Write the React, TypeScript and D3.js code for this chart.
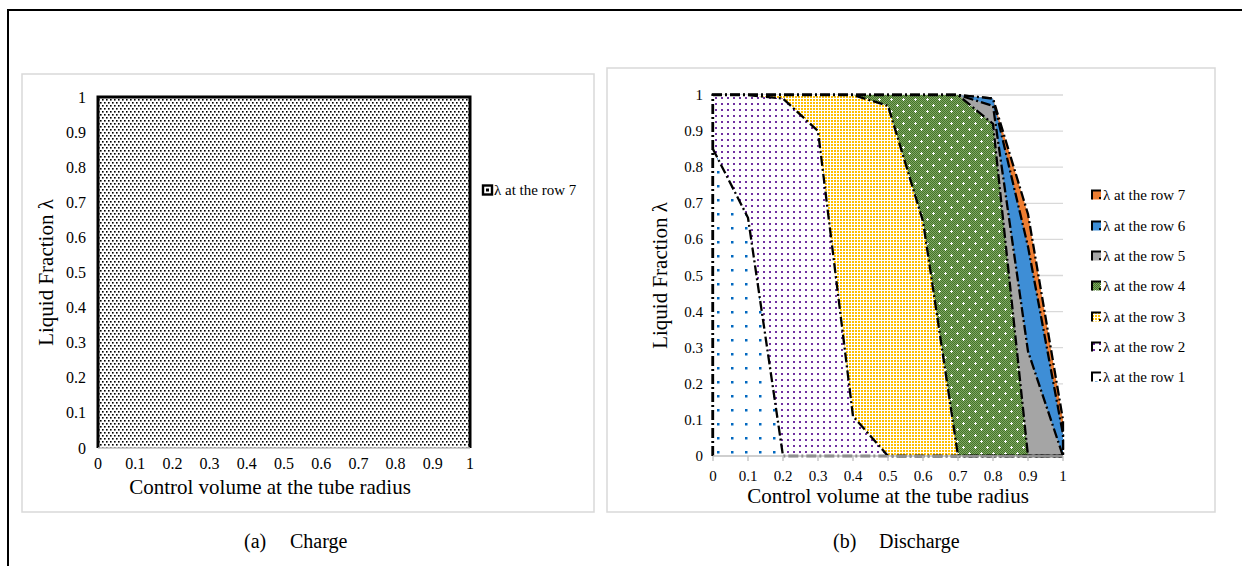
import React from "react";
import * as d3 from "d3";

// Control-volume positions along the tube radius (category axis)
const X_VALUES = [0, 0.1, 0.2, 0.3, 0.4, 0.5, 0.6, 0.7, 0.8, 0.9, 1];
const X_TICK_LABELS = ["0", "0.1", "0.2", "0.3", "0.4", "0.5", "0.6", "0.7", "0.8", "0.9", "1"];
const Y_TICKS = [0, 0.1, 0.2, 0.3, 0.4, 0.5, 0.6, 0.7, 0.8, 0.9, 1];
const Y_TICK_LABELS = ["0", "0.1", "0.2", "0.3", "0.4", "0.5", "0.6", "0.7", "0.8", "0.9", "1"];

// (a) Charge: liquid fraction at row 7
const CHARGE_ROW7 = [1, 1, 1, 1, 1, 1, 1, 1, 1, 1, 1];

// (b) Discharge: liquid fraction per row
const DISCHARGE_ROW1 = [0.85, 0.66, 0, 0, 0, 0, 0, 0, 0, 0, 0];
const DISCHARGE_ROW2 = [1, 1, 0.99, 0.9, 0.11, 0, 0, 0, 0, 0, 0];
const DISCHARGE_ROW3 = [1, 1, 1, 1, 1, 0.97, 0.65, 0, 0, 0, 0];
const DISCHARGE_ROW4 = [1, 1, 1, 1, 1, 1, 1, 1, 0.92, 0, 0];
const DISCHARGE_ROW5 = [1, 1, 1, 1, 1, 1, 1, 1, 0.97, 0.29, 0];
const DISCHARGE_ROW6 = [1, 1, 1, 1, 1, 1, 1, 1, 0.99, 0.58, 0.06];
const DISCHARGE_ROW7 = [1, 1, 1, 1, 1, 1, 1, 1, 0.99, 0.67, 0.1];

const SERIES_NAMES = [
  "λ at the row 1",
  "λ at the row 2",
  "λ at the row 3",
  "λ at the row 4",
  "λ at the row 5",
  "λ at the row 6",
  "λ at the row 7",
];

const X_TITLE = "Control volume at the tube radius";
const Y_TITLE = "Liquid Fraction λ";

const FONT = "'Liberation Serif', 'Times New Roman', serif";
const DASH_DOT = "10 3 2 3";

type Series = { name: string; values: number[]; fill: string };

const dischargeSeries: Series[] = [
  { name: SERIES_NAMES[6], values: DISCHARGE_ROW7, fill: "#ED7D31" },
  { name: SERIES_NAMES[5], values: DISCHARGE_ROW6, fill: "#3E8ED6" },
  { name: SERIES_NAMES[4], values: DISCHARGE_ROW5, fill: "#A5A5A5" },
  { name: SERIES_NAMES[3], values: DISCHARGE_ROW4, fill: "url(#patGreen)" },
  { name: SERIES_NAMES[2], values: DISCHARGE_ROW3, fill: "url(#patYellow)" },
  { name: SERIES_NAMES[1], values: DISCHARGE_ROW2, fill: "url(#patPurple)" },
  { name: SERIES_NAMES[0], values: DISCHARGE_ROW1, fill: "url(#patBlue)" },
];

function Patterns() {
  return (
    <defs>
      <pattern id="patBlack" width={4} height={6} patternUnits="userSpaceOnUse">
        <rect width={4} height={6} fill="#fff" />
        <rect x={0} y={0} width={1.6} height={1.6} fill="#000" />
        <rect x={2} y={3} width={1.6} height={1.6} fill="#000" />
      </pattern>
      <pattern id="patBlue" width={14} height={14} patternUnits="userSpaceOnUse">
        <rect width={14} height={14} fill="#fff" />
        <rect x={3} y={3} width={2.5} height={2.5} fill="#0068C0" />
      </pattern>
      <pattern id="patPurple" width={6} height={6} patternUnits="userSpaceOnUse">
        <rect width={6} height={6} fill="#fff" />
        <rect x={1} y={1} width={2} height={2} fill="#7030A0" />
      </pattern>
      <pattern id="patYellow" width={3} height={3} patternUnits="userSpaceOnUse">
        <rect width={3} height={3} fill="#fff" />
        <rect x={0} y={0} width={2} height={2} fill="#FFC000" />
      </pattern>
      <pattern id="patChecker" width={2} height={2} patternUnits="userSpaceOnUse">
        <rect width={2} height={2} fill="#7FA862" />
        <rect x={0} y={0} width={1} height={1} fill="#44732A" />
        <rect x={1} y={1} width={1} height={1} fill="#44732A" />
      </pattern>
      <pattern id="patGreen" width={12} height={12} patternUnits="userSpaceOnUse">
        <rect width={12} height={12} fill="url(#patChecker)" />
        <rect x={2} y={3} width={3} height={1} fill="#fff" />
        <rect x={3} y={2} width={1} height={3} fill="#fff" />
        <rect x={8} y={9} width={3} height={1} fill="#fff" />
        <rect x={9} y={8} width={1} height={3} fill="#fff" />
      </pattern>
    </defs>
  );
}

function ChargePanel() {
  const x = d3.scaleLinear().domain([0, 1]).range([98, 470]);
  const y = d3.scaleLinear().domain([0, 1]).range([448, 97]);
  const area = d3
    .area<number>()
    .x((_, i) => x(X_VALUES[i]))
    .y0(y(0))
    .y1((d) => y(d));
  const pts: [number, number][] = [
    [0, 0],
    ...CHARGE_ROW7.map((v, i) => [X_VALUES[i], v] as [number, number]),
    [1, 0],
  ];
  const outline = d3
    .line<[number, number]>()
    .x((d) => x(d[0]))
    .y((d) => y(d[1]))(pts);

  return (
    <g>
      <rect x={22} y={74} width={572} height={438} fill="#fff" stroke="#D9D9D9" strokeWidth={1.5} />
      <path d={area(CHARGE_ROW7) || ""} fill="url(#patBlack)" />
      <path d={outline || ""} fill="none" stroke="#000" strokeWidth={3} />
      <line x1={x(0)} x2={x(1)} y1={y(0)} y2={y(0)} stroke="#BFBFBF" strokeWidth={1.5} />
      {Y_TICKS.map((t, i) => (
        <text key={t} x={86} y={y(t)} textAnchor="end" dominantBaseline="central" fontSize={16} fontFamily={FONT}>
          {Y_TICK_LABELS[i]}
        </text>
      ))}
      {X_VALUES.map((t, i) => (
        <text key={t} x={x(t)} y={463} textAnchor="middle" dominantBaseline="central" fontSize={16} fontFamily={FONT}>
          {X_TICK_LABELS[i]}
        </text>
      ))}
      <text x={270} y={487} textAnchor="middle" dominantBaseline="central" fontSize={21} fontFamily={FONT}>
        {X_TITLE}
      </text>
      <text
        transform={`translate(46,${(y(0) + y(1)) / 2}) rotate(-90)`}
        textAnchor="middle"
        dominantBaseline="central"
        fontSize={21}
        fontFamily={FONT}
      >
        {Y_TITLE}
      </text>
      <rect x={483} y={185.5} width={9} height={9} fill="#fff" stroke="#000" strokeWidth={2.4} />
      <rect x={486} y={188.5} width={3} height={3} fill="#000" />
      <text x={494} y={190} dominantBaseline="central" fontSize={15} fontFamily={FONT}>
        {SERIES_NAMES[6]}
      </text>
    </g>
  );
}

function DischargePanel() {
  const x = d3.scaleLinear().domain([0, 1]).range([713, 1063]);
  const y = d3.scaleLinear().domain([0, 1]).range([456, 95]);
  const area = d3
    .area<number>()
    .x((_, i) => x(X_VALUES[i]))
    .y0(y(0))
    .y1((d) => y(d));
  const line = d3
    .line<[number, number]>()
    .x((d) => x(d[0]))
    .y((d) => y(d[1]));
  const outlineOf = (values: number[]) => {
    const pts: [number, number][] = [[0, 0], ...values.map((v, i) => [X_VALUES[i], v] as [number, number])];
    if (values[values.length - 1] > 0) pts.push([1, 0]);
    return line(pts) || "";
  };
  const legendRows = [195, 226, 256, 286, 317, 347, 377];

  return (
    <g>
      <rect x={607} y={68} width={608} height={444} fill="#fff" stroke="#D9D9D9" strokeWidth={1.5} />
      {Y_TICKS.filter((t) => t > 0).map((t) => (
        <line key={t} x1={x(0)} x2={x(1)} y1={y(t)} y2={y(t)} stroke="#D9D9D9" strokeWidth={1.3} />
      ))}
      {dischargeSeries.map((s) => (
        <g key={s.name}>
          <path d={area(s.values) || ""} fill={s.fill} />
          <path d={outlineOf(s.values)} fill="none" stroke="#000" strokeWidth={2.3} strokeDasharray={DASH_DOT} />
        </g>
      ))}
      <line x1={x(0)} x2={x(1)} y1={y(0)} y2={y(0)} stroke="#BFBFBF" strokeWidth={1.3} />
      {X_VALUES.map((t) => (
        <line key={t} x1={x(t)} x2={x(t)} y1={y(0)} y2={y(0) + 5} stroke="#BFBFBF" strokeWidth={1.3} />
      ))}
      {Y_TICKS.map((t, i) => (
        <text key={t} x={703} y={y(t)} textAnchor="end" dominantBaseline="central" fontSize={15} fontFamily={FONT}>
          {Y_TICK_LABELS[i]}
        </text>
      ))}
      {X_VALUES.map((t, i) => (
        <text key={t} x={x(t)} y={476} textAnchor="middle" dominantBaseline="central" fontSize={15} fontFamily={FONT}>
          {X_TICK_LABELS[i]}
        </text>
      ))}
      <text x={(x(0) + x(1)) / 2} y={496} textAnchor="middle" dominantBaseline="central" fontSize={21} fontFamily={FONT}>
        {X_TITLE}
      </text>
      <text
        transform={`translate(660,${(y(0) + y(1)) / 2}) rotate(-90)`}
        textAnchor="middle"
        dominantBaseline="central"
        fontSize={21}
        fontFamily={FONT}
      >
        {Y_TITLE}
      </text>
      {dischargeSeries.map((s, i) => {
        const cy = legendRows[i];
        return (
          <g key={s.name}>
            <rect x={1092} y={cy - 4.5} width={9} height={9} fill={s.fill} />
            <path d={`M1092,${cy + 4.5}V${cy - 4.5}H1101`} fill="none" stroke="#000" strokeWidth={2} />
            <rect x={1099} y={cy + 2} width={2} height={2} fill="#000" />
            <text x={1103} y={cy} dominantBaseline="central" fontSize={15} fontFamily={FONT}>
              {s.name}
            </text>
          </g>
        );
      })}
    </g>
  );
}

export default function App() {
  return (
    <svg
      width={1242}
      height={566}
      style={{ position: "absolute", left: 0, top: 0, background: "#fff" }}
    >
      <Patterns />
      <rect width={1242} height={566} fill="#fff" />
      <path d="M8,566V10H1242" fill="none" stroke="#000" strokeWidth={2} />
      <ChargePanel />
      <DischargePanel />
      <text x={244} y={541} dominantBaseline="central" fontSize={20} fontFamily={FONT}>(a)</text>
      <text x={290} y={541} dominantBaseline="central" fontSize={20} fontFamily={FONT}>Charge</text>
      <text x={833} y={541} dominantBaseline="central" fontSize={20} fontFamily={FONT}>(b)</text>
      <text x={879} y={541} dominantBaseline="central" fontSize={20} fontFamily={FONT}>Discharge</text>
    </svg>
  );
}
